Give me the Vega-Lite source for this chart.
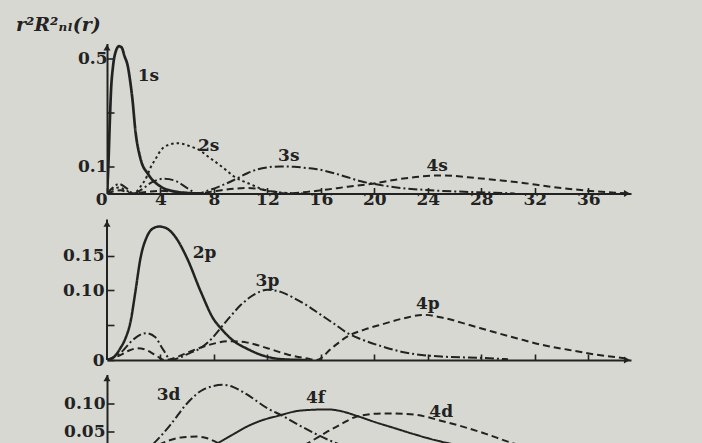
{
  "$schema": "https://vega.github.io/schema/vega-lite/v6.json",
  "background": "#d7d8d1",
  "padding": {"left": 15, "top": 15.5, "right": 71, "bottom": 0},
  "bounds": "flush",
  "spacing": 14.5,
  "resolve": {"scale": {"x": "independent", "y": "independent", "strokeDash": "independent"}},
  "config": {
    "view": {"stroke": null},
    "axis": {
      "domainColor": "#222222", "domainWidth": 2, "tickColor": "#222222", "tickWidth": 1.6,
      "labelFont": "DejaVu Serif", "labelFontWeight": "bold", "labelFontSize": 17, "labelColor": "#222222",
      "grid": false, "labelFlush": false, "labelOverlap": false
    },
    "text": {"font": "DejaVu Serif", "fontWeight": "bold", "fontSize": 17, "color": "#222222", "align": "center", "baseline": "middle"}
  },
  "datasets": {
    "curves": [
      {"panel":1,"orbital":"1s","r":0,"v":0},{"panel":1,"orbital":"1s","r":0.1,"v":0.1},{"panel":1,"orbital":"1s","r":0.2,"v":0.25},{"panel":1,"orbital":"1s","r":0.3,"v":0.38},{"panel":1,"orbital":"1s","r":0.45,"v":0.47},{"panel":1,"orbital":"1s","r":0.65,"v":0.525},{"panel":1,"orbital":"1s","r":0.9,"v":0.545},{"panel":1,"orbital":"1s","r":1.1,"v":0.54},{"panel":1,"orbital":"1s","r":1.3,"v":0.51},{"panel":1,"orbital":"1s","r":1.56,"v":0.47},{"panel":1,"orbital":"1s","r":1.75,"v":0.41},{"panel":1,"orbital":"1s","r":1.9,"v":0.35},{"panel":1,"orbital":"1s","r":2.13,"v":0.23},{"panel":1,"orbital":"1s","r":2.5,"v":0.13},{"panel":1,"orbital":"1s","r":3.1,"v":0.07},{"panel":1,"orbital":"1s","r":4.0,"v":0.026},{"panel":1,"orbital":"1s","r":5.0,"v":0.008},{"panel":1,"orbital":"1s","r":6.0,"v":0.002},{"panel":1,"orbital":"1s","r":7.0,"v":0},
      {"panel":1,"orbital":"2s","r":0,"v":0},{"panel":1,"orbital":"2s","r":0.4,"v":0.015},{"panel":1,"orbital":"2s","r":0.9,"v":0.022},{"panel":1,"orbital":"2s","r":1.4,"v":0.012},{"panel":1,"orbital":"2s","r":2.0,"v":0},{"panel":1,"orbital":"2s","r":2.5,"v":0.025},{"panel":1,"orbital":"2s","r":3.0,"v":0.065},{"panel":1,"orbital":"2s","r":3.25,"v":0.095},{"panel":1,"orbital":"2s","r":3.6,"v":0.125},{"panel":1,"orbital":"2s","r":4.0,"v":0.158},{"panel":1,"orbital":"2s","r":4.5,"v":0.178},{"panel":1,"orbital":"2s","r":5.3,"v":0.186},{"panel":1,"orbital":"2s","r":6.2,"v":0.175},{"panel":1,"orbital":"2s","r":7.0,"v":0.158},{"panel":1,"orbital":"2s","r":7.6,"v":0.135},{"panel":1,"orbital":"2s","r":8.25,"v":0.112},{"panel":1,"orbital":"2s","r":8.9,"v":0.087},{"panel":1,"orbital":"2s","r":9.5,"v":0.063},{"panel":1,"orbital":"2s","r":10.7,"v":0.035},{"panel":1,"orbital":"2s","r":12,"v":0.01},{"panel":1,"orbital":"2s","r":13.5,"v":0.002},{"panel":1,"orbital":"2s","r":15,"v":0},
      {"panel":1,"orbital":"3s","r":0,"v":0},{"panel":1,"orbital":"3s","r":0.4,"v":0.02},{"panel":1,"orbital":"3s","r":0.9,"v":0.035},{"panel":1,"orbital":"3s","r":1.4,"v":0.022},{"panel":1,"orbital":"3s","r":2.0,"v":0},{"panel":1,"orbital":"3s","r":2.6,"v":0.015},{"panel":1,"orbital":"3s","r":3.3,"v":0.04},{"panel":1,"orbital":"3s","r":4.3,"v":0.055},{"panel":1,"orbital":"3s","r":5.2,"v":0.045},{"panel":1,"orbital":"3s","r":6.0,"v":0.02},{"panel":1,"orbital":"3s","r":6.8,"v":0},{"panel":1,"orbital":"3s","r":7.5,"v":0.01},{"panel":1,"orbital":"3s","r":8.5,"v":0.028},{"panel":1,"orbital":"3s","r":9.5,"v":0.05},{"panel":1,"orbital":"3s","r":10.5,"v":0.075},{"panel":1,"orbital":"3s","r":11.3,"v":0.09},{"panel":1,"orbital":"3s","r":12.2,"v":0.098},{"panel":1,"orbital":"3s","r":13,"v":0.1},{"panel":1,"orbital":"3s","r":14,"v":0.099},{"panel":1,"orbital":"3s","r":15,"v":0.094},{"panel":1,"orbital":"3s","r":15.7,"v":0.09},{"panel":1,"orbital":"3s","r":17,"v":0.075},{"panel":1,"orbital":"3s","r":18,"v":0.06},{"panel":1,"orbital":"3s","r":19,"v":0.045},{"panel":1,"orbital":"3s","r":20,"v":0.035},{"panel":1,"orbital":"3s","r":21.4,"v":0.024},{"panel":1,"orbital":"3s","r":23,"v":0.016},{"panel":1,"orbital":"3s","r":24.2,"v":0.012},{"panel":1,"orbital":"3s","r":26.4,"v":0.007},{"panel":1,"orbital":"3s","r":29,"v":0.003},{"panel":1,"orbital":"3s","r":30.5,"v":0},
      {"panel":1,"orbital":"4s","r":0,"v":0},{"panel":1,"orbital":"4s","r":0.5,"v":0.008},{"panel":1,"orbital":"4s","r":1,"v":0.012},{"panel":1,"orbital":"4s","r":1.5,"v":0.005},{"panel":1,"orbital":"4s","r":1.9,"v":0},{"panel":1,"orbital":"4s","r":3,"v":0.006},{"panel":1,"orbital":"4s","r":4,"v":0.01},{"panel":1,"orbital":"4s","r":5,"v":0.007},{"panel":1,"orbital":"4s","r":6.6,"v":0},{"panel":1,"orbital":"4s","r":8,"v":0.008},{"panel":1,"orbital":"4s","r":9.5,"v":0.018},{"panel":1,"orbital":"4s","r":10.5,"v":0.02},{"panel":1,"orbital":"4s","r":11.5,"v":0.016},{"panel":1,"orbital":"4s","r":12.5,"v":0.007},{"panel":1,"orbital":"4s","r":13.5,"v":0},{"panel":1,"orbital":"4s","r":15,"v":0.006},{"panel":1,"orbital":"4s","r":16.5,"v":0.015},{"panel":1,"orbital":"4s","r":18,"v":0.025},{"panel":1,"orbital":"4s","r":19.7,"v":0.035},{"panel":1,"orbital":"4s","r":21.7,"v":0.052},{"panel":1,"orbital":"4s","r":23.5,"v":0.063},{"panel":1,"orbital":"4s","r":25.2,"v":0.067},{"panel":1,"orbital":"4s","r":27,"v":0.06},{"panel":1,"orbital":"4s","r":29.5,"v":0.048},{"panel":1,"orbital":"4s","r":31,"v":0.04},{"panel":1,"orbital":"4s","r":33.2,"v":0.025},{"panel":1,"orbital":"4s","r":35,"v":0.015},{"panel":1,"orbital":"4s","r":36.5,"v":0.008},{"panel":1,"orbital":"4s","r":38,"v":0.003},{"panel":1,"orbital":"4s","r":39.2,"v":0.001},
      {"panel":2,"orbital":"2p","r":0,"v":0},{"panel":2,"orbital":"2p","r":0.5,"v":0.004},{"panel":2,"orbital":"2p","r":1.0,"v":0.017},{"panel":2,"orbital":"2p","r":1.4,"v":0.032},{"panel":2,"orbital":"2p","r":1.76,"v":0.055},{"panel":2,"orbital":"2p","r":2.13,"v":0.099},{"panel":2,"orbital":"2p","r":2.5,"v":0.146},{"panel":2,"orbital":"2p","r":3.0,"v":0.178},{"panel":2,"orbital":"2p","r":3.5,"v":0.19},{"panel":2,"orbital":"2p","r":3.9,"v":0.192},{"panel":2,"orbital":"2p","r":4.4,"v":0.19},{"panel":2,"orbital":"2p","r":5.0,"v":0.18},{"panel":2,"orbital":"2p","r":6.0,"v":0.146},{"panel":2,"orbital":"2p","r":7.0,"v":0.099},{"panel":2,"orbital":"2p","r":8.0,"v":0.058},{"panel":2,"orbital":"2p","r":8.5,"v":0.046},{"panel":2,"orbital":"2p","r":9.5,"v":0.027},{"panel":2,"orbital":"2p","r":10.5,"v":0.016},{"panel":2,"orbital":"2p","r":11.5,"v":0.0075},{"panel":2,"orbital":"2p","r":13.2,"v":0.001},{"panel":2,"orbital":"2p","r":15,"v":0},
      {"panel":2,"orbital":"3p","r":0,"v":0},{"panel":2,"orbital":"3p","r":1.0,"v":0.01},{"panel":2,"orbital":"3p","r":2.0,"v":0.03},{"panel":2,"orbital":"3p","r":2.9,"v":0.0386},{"panel":2,"orbital":"3p","r":3.6,"v":0.033},{"panel":2,"orbital":"3p","r":4.2,"v":0.015},{"panel":2,"orbital":"3p","r":4.8,"v":0},{"panel":2,"orbital":"3p","r":5.5,"v":0.004},{"panel":2,"orbital":"3p","r":6.2,"v":0.01},{"panel":2,"orbital":"3p","r":7.0,"v":0.017},{"panel":2,"orbital":"3p","r":7.8,"v":0.03},{"panel":2,"orbital":"3p","r":8.5,"v":0.046},{"panel":2,"orbital":"3p","r":9.2,"v":0.062},{"panel":2,"orbital":"3p","r":10,"v":0.079},{"panel":2,"orbital":"3p","r":11,"v":0.094},{"panel":2,"orbital":"3p","r":12,"v":0.101},{"panel":2,"orbital":"3p","r":13,"v":0.098},{"panel":2,"orbital":"3p","r":14,"v":0.089},{"panel":2,"orbital":"3p","r":15,"v":0.078},{"panel":2,"orbital":"3p","r":16,"v":0.065},{"panel":2,"orbital":"3p","r":17,"v":0.052},{"panel":2,"orbital":"3p","r":18,"v":0.0386},{"panel":2,"orbital":"3p","r":19,"v":0.03},{"panel":2,"orbital":"3p","r":20.5,"v":0.02},{"panel":2,"orbital":"3p","r":22,"v":0.012},{"panel":2,"orbital":"3p","r":23.2,"v":0.008},{"panel":2,"orbital":"3p","r":25,"v":0.005},{"panel":2,"orbital":"3p","r":28,"v":0.003},{"panel":2,"orbital":"3p","r":30,"v":0.001},
      {"panel":2,"orbital":"4p","r":0,"v":0},{"panel":2,"orbital":"4p","r":1.0,"v":0.007},{"panel":2,"orbital":"4p","r":1.7,"v":0.014},{"panel":2,"orbital":"4p","r":2.3,"v":0.017},{"panel":2,"orbital":"4p","r":3.0,"v":0.014},{"panel":2,"orbital":"4p","r":3.7,"v":0.006},{"panel":2,"orbital":"4p","r":4.3,"v":0},{"panel":2,"orbital":"4p","r":5.2,"v":0.004},{"panel":2,"orbital":"4p","r":6.2,"v":0.012},{"panel":2,"orbital":"4p","r":7.5,"v":0.021},{"panel":2,"orbital":"4p","r":9.2,"v":0.027},{"panel":2,"orbital":"4p","r":10.5,"v":0.025},{"panel":2,"orbital":"4p","r":12,"v":0.017},{"panel":2,"orbital":"4p","r":13.5,"v":0.008},{"panel":2,"orbital":"4p","r":15,"v":0.002},{"panel":2,"orbital":"4p","r":15.7,"v":0},{"panel":2,"orbital":"4p","r":16.8,"v":0.017},{"panel":2,"orbital":"4p","r":18,"v":0.034},{"panel":2,"orbital":"4p","r":19.3,"v":0.044},{"panel":2,"orbital":"4p","r":20.7,"v":0.052},{"panel":2,"orbital":"4p","r":22.2,"v":0.06},{"panel":2,"orbital":"4p","r":23.7,"v":0.065},{"panel":2,"orbital":"4p","r":25.3,"v":0.06},{"panel":2,"orbital":"4p","r":27,"v":0.051},{"panel":2,"orbital":"4p","r":28.8,"v":0.041},{"panel":2,"orbital":"4p","r":30.7,"v":0.031},{"panel":2,"orbital":"4p","r":32.5,"v":0.022},{"panel":2,"orbital":"4p","r":34.5,"v":0.0147},{"panel":2,"orbital":"4p","r":36.5,"v":0.008},{"panel":2,"orbital":"4p","r":38.7,"v":0.0026},
      {"panel":3,"orbital":"3d","r":0,"v":0},{"panel":3,"orbital":"3d","r":1,"v":0.0005},{"panel":3,"orbital":"3d","r":2,"v":0.004},{"panel":3,"orbital":"3d","r":2.8,"v":0.015},{"panel":3,"orbital":"3d","r":3.5,"v":0.029},{"panel":3,"orbital":"3d","r":4.75,"v":0.062},{"panel":3,"orbital":"3d","r":6.0,"v":0.1},{"panel":3,"orbital":"3d","r":7.2,"v":0.124},{"panel":3,"orbital":"3d","r":8.7,"v":0.1325},{"panel":3,"orbital":"3d","r":9.5,"v":0.128},{"panel":3,"orbital":"3d","r":10.5,"v":0.115},{"panel":3,"orbital":"3d","r":12,"v":0.091},{"panel":3,"orbital":"3d","r":13.1,"v":0.078},{"panel":3,"orbital":"3d","r":14.3,"v":0.062},{"panel":3,"orbital":"3d","r":15.5,"v":0.047},{"panel":3,"orbital":"3d","r":17.2,"v":0.029},{"panel":3,"orbital":"3d","r":19,"v":0.016},{"panel":3,"orbital":"3d","r":21,"v":0.008},{"panel":3,"orbital":"3d","r":24,"v":0.003},{"panel":3,"orbital":"3d","r":28,"v":0},
      {"panel":3,"orbital":"4d","r":0,"v":0},{"panel":3,"orbital":"4d","r":2,"v":0.004},{"panel":3,"orbital":"4d","r":3,"v":0.015},{"panel":3,"orbital":"4d","r":4,"v":0.028},{"panel":3,"orbital":"4d","r":4.75,"v":0.035},{"panel":3,"orbital":"4d","r":5.7,"v":0.04},{"panel":3,"orbital":"4d","r":6.7,"v":0.041},{"panel":3,"orbital":"4d","r":7.5,"v":0.038},{"panel":3,"orbital":"4d","r":8.1,"v":0.032},{"panel":3,"orbital":"4d","r":9,"v":0.022},{"panel":3,"orbital":"4d","r":10,"v":0.012},{"panel":3,"orbital":"4d","r":11,"v":0.004},{"panel":3,"orbital":"4d","r":12,"v":0},{"panel":3,"orbital":"4d","r":13,"v":0.006},{"panel":3,"orbital":"4d","r":14,"v":0.016},{"panel":3,"orbital":"4d","r":15,"v":0.029},{"panel":3,"orbital":"4d","r":15.8,"v":0.04},{"panel":3,"orbital":"4d","r":16.5,"v":0.05},{"panel":3,"orbital":"4d","r":17.6,"v":0.064},{"panel":3,"orbital":"4d","r":18.7,"v":0.0765},{"panel":3,"orbital":"4d","r":20.7,"v":0.082},{"panel":3,"orbital":"4d","r":22.7,"v":0.0806},{"panel":3,"orbital":"4d","r":25.2,"v":0.0677},{"panel":3,"orbital":"4d","r":28.2,"v":0.047},{"panel":3,"orbital":"4d","r":30.4,"v":0.029},{"panel":3,"orbital":"4d","r":33,"v":0.015},{"panel":3,"orbital":"4d","r":36,"v":0.006},{"panel":3,"orbital":"4d","r":39,"v":0.002},
      {"panel":3,"orbital":"4f","r":0,"v":0},{"panel":3,"orbital":"4f","r":4,"v":0.001},{"panel":3,"orbital":"4f","r":5.5,"v":0.006},{"panel":3,"orbital":"4f","r":7,"v":0.016},{"panel":3,"orbital":"4f","r":8.25,"v":0.029},{"panel":3,"orbital":"4f","r":9.3,"v":0.043},{"panel":3,"orbital":"4f","r":10.5,"v":0.059},{"panel":3,"orbital":"4f","r":11.5,"v":0.069},{"panel":3,"orbital":"4f","r":12.7,"v":0.077},{"panel":3,"orbital":"4f","r":14.5,"v":0.087},{"panel":3,"orbital":"4f","r":16.5,"v":0.089},{"panel":3,"orbital":"4f","r":17.5,"v":0.086},{"panel":3,"orbital":"4f","r":18.7,"v":0.0775},{"panel":3,"orbital":"4f","r":20,"v":0.067},{"panel":3,"orbital":"4f","r":21.5,"v":0.056},{"panel":3,"orbital":"4f","r":23,"v":0.045},{"panel":3,"orbital":"4f","r":24.5,"v":0.035},{"panel":3,"orbital":"4f","r":26.2,"v":0.026},{"panel":3,"orbital":"4f","r":28,"v":0.018},{"panel":3,"orbital":"4f","r":31,"v":0.009},{"panel":3,"orbital":"4f","r":35,"v":0.003}
    ],
    "labels": [
      {"panel":1,"orbital":"1s","r":3.1,"v":0.433},
      {"panel":1,"orbital":"2s","r":7.6,"v":0.174},
      {"panel":1,"orbital":"3s","r":13.6,"v":0.137},
      {"panel":1,"orbital":"4s","r":24.7,"v":0.1},
      {"panel":2,"orbital":"2p","r":7.3,"v":0.154},
      {"panel":2,"orbital":"3p","r":12.0,"v":0.114},
      {"panel":2,"orbital":"4p","r":24.0,"v":0.08},
      {"panel":3,"orbital":"3d","r":4.6,"v":0.115},
      {"panel":3,"orbital":"4f","r":15.6,"v":0.109},
      {"panel":3,"orbital":"4d","r":25.0,"v":0.085}
    ]
  },
  "vconcat": [
    {
      "width": 524, "height": 150,
      "layer": [
        {
          "data": {"name": "curves"},
          "transform": [{"filter": "datum.panel === 1"}],
          "mark": {"type": "line", "interpolate": "monotone", "clip": true, "color": "#222222"},
          "encoding": {
            "x": {"field": "r", "type": "quantitative", "scale": {"domain": [0, 39.2], "nice": false, "zero": false},
              "axis": {"values": [0, 4, 8, 12, 16, 20, 24, 28, 32, 36], "tickSize": -6, "labelPadding": 4, "title": null,
                "labelAlign": {"condition": {"test": "datum.value < 1", "value": "right"}, "value": "center"}}},
            "y": {"field": "v", "type": "quantitative", "scale": {"domain": [0, 0.555], "nice": false, "zero": false},
              "axis": {"values": [0.1, 0.2, 0.3, 0.4, 0.5], "tickSize": -7, "labelPadding": 7,
                "labelExpr": "abs(datum.value - 0.1) < 0.01 ? '0.1' : abs(datum.value - 0.5) < 0.01 ? '0.5' : ''",
                "title": "r²R²ₙₗ(r)", "titleAngle": 0, "titleAlign": "left", "titleBaseline": "alphabetic",
                "titleX": -91.5, "titleY": -13, "titleFont": "DejaVu Serif", "titleFontWeight": "bold",
                "titleFontStyle": "italic", "titleFontSize": 19, "titleColor": "#222222"}},
            "strokeDash": {"field": "orbital", "type": "nominal", "legend": null,
              "scale": {"domain": ["1s", "2s", "3s", "4s"], "range": [[1, 0], [2.5, 3], [9, 3, 2, 3], [7, 4]]}},
            "strokeWidth": {"condition": {"test": "datum.orbital === '1s'", "value": 2.7}, "value": 2}
          }
        },
        {
          "data": {"name": "labels"},
          "transform": [{"filter": "datum.panel === 1"}],
          "mark": {"type": "text"},
          "encoding": {"x": {"field": "r", "type": "quantitative"}, "y": {"field": "v", "type": "quantitative"}, "text": {"field": "orbital"}}
        },
        {
          "data": {"values": [{}]},
          "mark": {"type": "point", "shape": "triangle-up", "filled": true, "size": 50, "color": "#222222", "opacity": 1},
          "encoding": {"x": {"datum": 0, "type": "quantitative"}, "y": {"datum": 0.54, "type": "quantitative"}}
        },
        {
          "data": {"values": [{}]},
          "mark": {"type": "point", "shape": "triangle-right", "filled": true, "size": 50, "color": "#222222", "opacity": 1},
          "encoding": {"x": {"datum": 38.9, "type": "quantitative"}, "y": {"datum": 0, "type": "quantitative"}}
        }
      ]
    },
    {
      "width": 524, "height": 152,
      "layer": [
        {
          "data": {"name": "curves"},
          "transform": [{"filter": "datum.panel === 2"}],
          "mark": {"type": "line", "interpolate": "monotone", "clip": true, "color": "#222222"},
          "encoding": {
            "x": {"field": "r", "type": "quantitative", "scale": {"domain": [0, 39.2], "nice": false, "zero": false},
              "axis": {"values": [4, 8, 12, 16, 20, 24, 28, 32, 36], "tickSize": -6, "labels": false, "title": null}},
            "y": {"field": "v", "type": "quantitative", "scale": {"domain": [0, 0.2187], "nice": false, "zero": false},
              "axis": {"values": [0, 0.05, 0.1, 0.15], "tickSize": -7, "domain": false, "labelPadding": 10,
                "labelExpr": "datum.value < 0.01 ? '0' : abs(datum.value - 0.05) < 0.01 ? '' : format(datum.value, '.2f')",
                "title": null}},
            "strokeDash": {"field": "orbital", "type": "nominal", "legend": null,
              "scale": {"domain": ["2p", "3p", "4p"], "range": [[1, 0], [9, 3, 2, 3], [7, 4]]}},
            "strokeWidth": {"condition": {"test": "datum.orbital === '2p'", "value": 2.5}, "value": 2}
          }
        },
        {
          "data": {"values": [{}]},
          "mark": {"type": "rule", "color": "#222222", "strokeWidth": 2},
          "encoding": {"x": {"datum": 0, "type": "quantitative"}, "y": {"datum": 0, "type": "quantitative"}, "y2": {"datum": 0.202}}
        },
        {
          "data": {"name": "labels"},
          "transform": [{"filter": "datum.panel === 2"}],
          "mark": {"type": "text"},
          "encoding": {"x": {"field": "r", "type": "quantitative"}, "y": {"field": "v", "type": "quantitative"}, "text": {"field": "orbital"}}
        },
        {
          "data": {"values": [{}]},
          "mark": {"type": "point", "shape": "triangle-up", "filled": true, "size": 50, "color": "#222222", "opacity": 1},
          "encoding": {"x": {"datum": 0, "type": "quantitative"}, "y": {"datum": 0.196, "type": "quantitative"}}
        },
        {
          "data": {"values": [{}]},
          "mark": {"type": "point", "shape": "triangle-right", "filled": true, "size": 50, "color": "#222222", "opacity": 1},
          "encoding": {"x": {"datum": 38.9, "type": "quantitative"}, "y": {"datum": 0, "type": "quantitative"}}
        }
      ]
    },
    {
      "width": 524, "height": 70,
      "layer": [
        {
          "data": {"name": "curves"},
          "transform": [{"filter": "datum.panel === 3"}],
          "mark": {"type": "line", "interpolate": "monotone", "clip": true, "color": "#222222"},
          "encoding": {
            "x": {"field": "r", "type": "quantitative", "scale": {"domain": [0, 39.2], "nice": false, "zero": false}, "axis": null},
            "y": {"field": "v", "type": "quantitative", "scale": {"domain": [0.027, 0.1507], "nice": false, "zero": false},
              "axis": {"values": [0.05, 0.1], "tickSize": -7, "labelPadding": 9, "format": ".2f", "title": null}},
            "strokeDash": {"field": "orbital", "type": "nominal", "legend": null,
              "scale": {"domain": ["3d", "4d", "4f"], "range": [[9, 3, 2, 3], [7, 4], [1, 0]]}},
            "strokeWidth": {"value": 2}
          }
        },
        {
          "data": {"name": "labels"},
          "transform": [{"filter": "datum.panel === 3"}],
          "mark": {"type": "text"},
          "encoding": {"x": {"field": "r", "type": "quantitative"}, "y": {"field": "v", "type": "quantitative"}, "text": {"field": "orbital"}}
        },
        {
          "data": {"values": [{}]},
          "mark": {"type": "point", "shape": "triangle-up", "filled": true, "size": 50, "color": "#222222", "opacity": 1},
          "encoding": {"x": {"datum": 0, "type": "quantitative"}, "y": {"datum": 0.144, "type": "quantitative"}}
        }
      ]
    }
  ]
}
